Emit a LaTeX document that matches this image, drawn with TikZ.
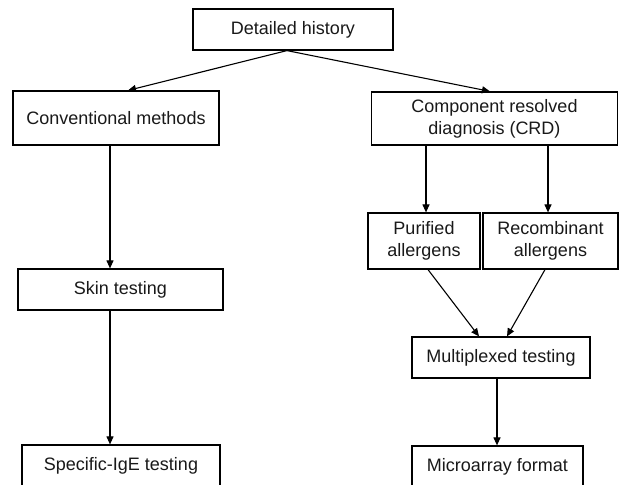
\documentclass[tikz,border=0pt]{standalone}
\usepackage{fontspec}
\setmainfont{Liberation Sans}
\usetikzlibrary{arrows.meta}
\begin{document}
\begin{tikzpicture}[x=1pt,y=-1pt,
  box/.style={draw, line width=1.2pt, rectangle, inner sep=0pt, align=center,
    font=\fontsize{18}{22}\selectfont, text=black!90},
  conn/.style={line width=1.1pt, -{Triangle[length=8pt,width=7pt]}}]
\useasboundingbox (0,0) rectangle (620,484);
\clip (0,0) rectangle (620,484);
\fill[white] (0,0) rectangle (620,484);
\node[box, minimum width=200pt, minimum height=41pt] (dh) at (293,29.5) {Detailed history};
\node[box, minimum width=206pt, minimum height=54pt] (conv) at (116,118) {Conventional methods};
\node[box, minimum width=246pt, minimum height=53pt] (crd) at (494.5,118.5) {Component resolved\\diagnosis (CRD)};
\node[box, minimum width=205pt, minimum height=41pt] (skin) at (120.5,289.5) {Skin testing};
\node[box, minimum width=112pt, minimum height=56pt] (pur) at (424,241) {Purified\\allergens};
\node[box, minimum width=135pt, minimum height=56pt] (rec) at (550.5,241) {Recombinant\\allergens};
\node[box, minimum width=178pt, minimum height=41pt] (mul) at (501,357.5) {Multiplexed testing};
\node[box, minimum width=198pt, minimum height=41pt] (sige) at (121,465.5) {Specific-IgE testing};
\node[box, minimum width=171pt, minimum height=41pt] (mic) at (497.5,466.5) {Microarray format};
\coordinate (apex) at (dh.south -| 287,0);
\draw[conn] (apex) -- (conv.north -| 128,0);
\draw[conn] (apex) -- (crd.north -| 490,0);
\draw[conn] (conv.south -| 110,0) -- (skin.north -| 110,0);
\draw[conn] (skin.south -| 110,0) -- (sige.north -| 110,0);
\draw[conn] (crd.south -| 426,0) -- (pur.north -| 426,0);
\draw[conn] (crd.south -| 548,0) -- (rec.north -| 548,0);
\draw[conn] (pur.south -| 428,0) -- (mul.north -| 479,0);
\draw[conn] (rec.south -| 545,0) -- (mul.north -| 507,0);
\draw[conn] (mul.south -| 497,0) -- (mic.north -| 497,0);
\end{tikzpicture}
\end{document}
